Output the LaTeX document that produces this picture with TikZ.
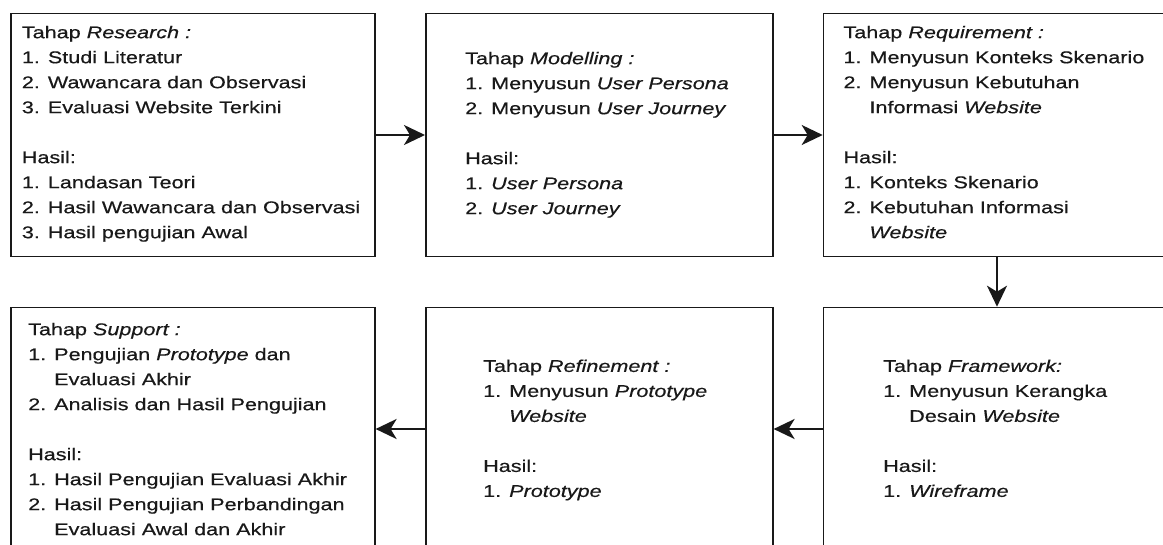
\documentclass[tikz,border=0pt]{standalone}
\usepackage{fontspec}
\setmainfont{Liberation Sans}[FakeStretch=1.27,FakeBold=0.4]
\usetikzlibrary{arrows.meta}
\definecolor{ink}{RGB}{25,25,25}
% every text block starts with this strut, so its top sits 13pt above the first baseline
\newcommand{\capline}{\rule{0pt}{13pt}}
\newlength{\lineskipstep}
\setlength{\lineskipstep}{25pt}

\begin{document}
\begin{tikzpicture}[x=1pt,y=-1pt,
  stage/.style={draw=ink, line width=1.6pt, fill=white, anchor=north west,
                minimum height=243pt, inner sep=0pt},
  wide/.style={minimum width=364pt},
  narrow/.style={minimum width=347pt},
  info/.style={anchor=north west, inner sep=0pt, align=left, text=ink,
               font=\fontsize{17}{25}\selectfont},
  flow/.style={draw=ink, line width=2.2pt,
               -{Stealth[length=21pt,width=20pt,inset=6pt]}}
]
\useasboundingbox (0,0) rectangle (1163,544);

% top row
\node[stage, wide]   (research)    at (10,12.7)    {};
\node[stage, narrow] (modelling)   at (425,12.7)   {};
\node[stage, narrow] (requirement) at (822.7,12.7) {};
% bottom row
\node[stage, wide]   (support)     at (10,306.7)    {};
\node[stage, narrow] (refinement)  at (425,306.7)   {};
\node[stage, narrow] (framework)   at (822.7,306.7) {};

% stage descriptions
\node[info] (researchText) at (21.7,25) {\capline Tahap \textit{Research :}\\
1. Studi Literatur\\
2. Wawancara dan Observasi\\
3. Evaluasi Website Terkini\\[\lineskipstep]
Hasil:\\
1. Landasan Teori\\
2. Hasil Wawancara dan Observasi\\
3. Hasil pengujian Awal};

\node[info] (modellingText) at (465,51) {\capline Tahap \textit{Modelling :}\\
1. Menyusun \textit{User Persona}\\
2. Menyusun \textit{User Journey}\\[\lineskipstep]
Hasil:\\
1. \textit{User Persona}\\
2. \textit{User Journey}};

\node[info] (requirementText) at (843.3,25) {\capline Tahap \textit{Requirement :}\\
1. Menyusun Konteks Skenario\\
2. Menyusun Kebutuhan\\
\phantom{2. }Informasi \textit{Website}\\[\lineskipstep]
Hasil:\\
1. Konteks Skenario\\
2. Kebutuhan Informasi\\
\phantom{2. }\textit{Website}};

\node[info] (supportText) at (28,322) {\capline Tahap \textit{Support :}\\
1. Pengujian \textit{Prototype} dan\\
\phantom{1. }Evaluasi Akhir\\
2. Analisis dan Hasil Pengujian\\[\lineskipstep]
Hasil:\\
1. Hasil Pengujian Evaluasi Akhir\\
2. Hasil Pengujian Perbandingan\\
\phantom{2. }Evaluasi Awal dan Akhir};

\node[info] (refinementText) at (483,358.7) {\capline Tahap \textit{Refinement :}\\
1. Menyusun \textit{Prototype}\\
\phantom{1. }\textit{Website}\\[\lineskipstep]
Hasil:\\
1. \textit{Prototype}};

\node[info] (frameworkText) at (883,358.7) {\capline Tahap \textit{Framework:}\\
1. Menyusun Kerangka\\
\phantom{1. }Desain \textit{Website}\\[\lineskipstep]
Hasil:\\
1. \textit{Wireframe}};

% flow between stages
\draw[flow] (research.east)    -- (modelling.west);
\draw[flow] (modelling.east)   -- (requirement.west);
\draw[flow] (requirement.south) -- (framework.north);
\draw[flow] (framework.west)   -- (refinement.east);
\draw[flow] (refinement.west)  -- (support.east);
\end{tikzpicture}
\end{document}
